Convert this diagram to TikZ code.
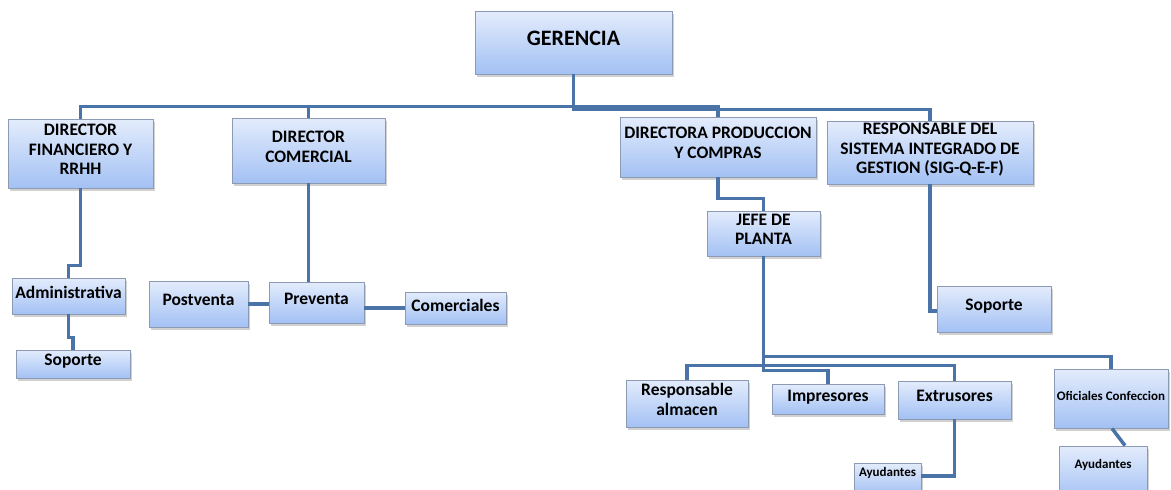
\documentclass[tikz,border=0pt]{standalone}
\usepackage{fontspec}
\setmainfont{Carlito}
\usetikzlibrary{shadows}
\definecolor{ln}{HTML}{4A74A8}
\definecolor{bt}{HTML}{E3ECFC}
\definecolor{bb}{HTML}{A3C1F4}
\definecolor{bd}{HTML}{8C9BB3}
\tikzset{
 box/.style={draw=bd, line width=0.9pt, top color=bt, bottom color=bb, inner sep=0pt,
   drop shadow={shadow xshift=2pt, shadow yshift=-3pt, opacity=0.3, fill=black!60}},
 lbl/.style={font=\bfseries\fontsize{17.5}{19.5}\selectfont, align=center, inner sep=0pt, text=black},
 big/.style={font=\bfseries\fontsize{22}{24}\selectfont},
 small/.style={font=\bfseries\fontsize{13}{15}\selectfont},
 conn/.style={draw=ln, line width=3.5pt}
}
\newcommand\orgbox[8]{%
 \node[box, minimum width={(#4-#2)*1pt}, minimum height={(#5-#3)*1pt}] (#1) at ({(#2+#4)/2},{(#3+#5)/2}) {};
 \node[lbl,#7] (#1t) at ({(#2+#4)/2},#6) {#8};}
\begin{document}
\begin{tikzpicture}[x=1pt,y=-1pt]
\useasboundingbox (0,0) rectangle (1171,490);
\clip (0,0) rectangle (1171,490);
% boxes
\orgbox{ger}{475}{11}{672}{74}{38}{big}{GERENCIA}
\orgbox{dfin}{8}{119}{153}{188}{149.5}{}{DIRECTOR\\FINANCIERO Y\\RRHH}
\orgbox{dcom}{232}{118}{385}{183}{147}{}{DIRECTOR\\COMERCIAL}
\orgbox{dprod}{620}{117}{816}{177}{143}{}{DIRECTORA PRODUCCION\\Y COMPRAS}
\orgbox{rsig}{827}{121}{1033}{184}{150}{}{RESPONSABLE DEL\\SISTEMA INTEGRADO DE\\GESTION (SIG-Q-E-F)}
\orgbox{jefe}{707}{211}{820}{256}{229.5}{}{JEFE DE\\PLANTA}
\orgbox{admin}{12}{278}{125}{314}{292}{}{Administrativa}
\orgbox{sop1}{16}{350}{130}{378}{361}{}{Soporte}
\orgbox{post}{149}{281}{248}{327}{300}{}{Postventa}
\orgbox{prev}{269}{282}{364}{323}{299}{}{Preventa}
\orgbox{com}{405}{292}{506}{324}{305}{}{Comerciales}
\orgbox{sop2}{937}{286}{1051}{332}{306}{}{Soporte}
\orgbox{ralm}{626}{380}{748}{427}{399.5}{}{Responsable\\almacen}
\orgbox{impr}{772}{384}{884}{414}{397}{}{Impresores}
\orgbox{extr}{898}{381}{1011}{419}{396}{}{Extrusores}
\orgbox{ofic}{1054}{369}{1168}{428}{396}{small}{Oficiales Confeccion}
\orgbox{ayu1}{854}{463}{921}{495}{473}{small}{Ayudantes}
\orgbox{ayu2}{1059}{446}{1147}{500}{465}{small}{Ayudantes}
% connectors
\draw[conn] (ger.south) -- ++(0,32) coordinate (gj) -| (dfin.north);
\draw[conn] (gj) -| (dprod.north);
\draw[conn] (dcom.north) -- (dcom.north |- gj);
\draw[conn] (ger.south) -- ++(0,35) -| (rsig.north);
\draw[conn] (dfin.south) -- ++(0,77) -| (admin.north);
\draw[conn] (admin.south) -- ++(0,23) -| (sop1.north);
\draw[conn] (dcom.south) -- (dcom.south |- prev.north);
\draw[conn] (post.east) -- (post.east -| prev.west);
\draw[conn] (com.west) -- (com.west -| prev.east);
\draw[conn] (dprod.south) -- ++(0,21) -| (jefe.north);
\draw[conn] (rsig.south) |- ([yshift=-2pt]sop2.west);
\draw[conn] (jefe.south) -- ++(0,114) -| (impr.north);
\draw[conn] (jefe.south) -- ++(0,100) -| (ofic.north);
\draw[conn] (ralm.north) -- ++(0,-14) -| (extr.north);
\draw[conn] (extr.south) |- ([yshift=3pt]ayu1.east);
\draw[conn] ([xshift=1pt]ofic.south) -- ([xshift=22pt]ayu2.north);
\end{tikzpicture}
\end{document}
